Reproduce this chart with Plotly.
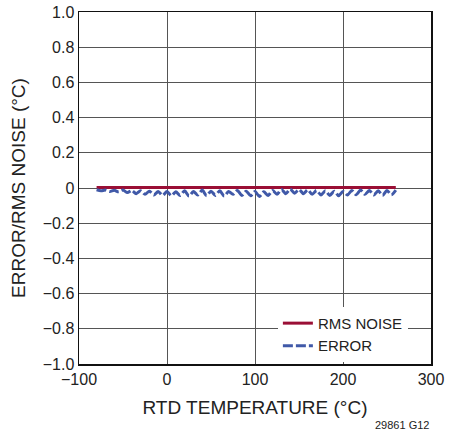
import plotly.graph_objects as go

# RTD temperature (°C) for error samples
temp_error = [-80, -75, -70, -65, -60, -55, -50, -45, -40, -35, -30, -25, -20, -15, -10, -5,
              0, 5, 10, 15, 20, 25, 30, 35, 40, 45, 50, 55, 60, 65, 70, 75, 80, 85, 90, 95,
              100, 105, 110, 115, 120, 125, 130, 135, 140, 145, 150, 155, 160, 165, 170, 175,
              180, 185, 190, 195, 200, 205, 210, 215, 220, 225, 230, 235, 240, 245, 250, 255, 260]
error = [-0.010, -0.016, -0.012, -0.020, -0.013, -0.022, -0.012, -0.026, -0.014, -0.032,
         -0.016, -0.036, -0.018, -0.040, -0.020, -0.042, -0.020, -0.044, -0.022, -0.042,
         -0.016, -0.046, -0.020, -0.040, -0.012, -0.044, -0.018, -0.042, -0.016, -0.046,
         -0.020, -0.036, -0.014, -0.042, -0.018, -0.044, -0.020, -0.048, -0.022, -0.042,
         -0.014, -0.036, -0.008, -0.032, -0.006, -0.030, -0.008, -0.032, -0.010, -0.036,
         -0.014, -0.040, -0.016, -0.042, -0.018, -0.044, -0.020, -0.040, -0.014, -0.038,
         -0.012, -0.036, -0.014, -0.040, -0.016, -0.042, -0.014, -0.038, -0.012]

temp_noise = [-80, -40, 0, 40, 80, 120, 160, 200, 240, 260]
rms_noise = [0.003, 0.003, 0.003, 0.003, 0.003, 0.003, 0.003, 0.003, 0.003, 0.003]

x_ticks = [-100, 0, 100, 200, 300]
x_ticklabels = ["\u2212100", "0", "100", "200", "300"]
y_ticks = [1.0, 0.8, 0.6, 0.4, 0.2, 0, -0.2, -0.4, -0.6, -0.8, -1.0]
y_ticklabels = ["1.0", "0.8", "0.6", "0.4", "0.2", "0", "\u22120.2", "\u22120.4",
                "\u22120.6", "\u22120.8", "\u22121.0"]

FONT = "Liberation Sans, Arial, sans-serif"

fig = go.Figure()
fig.add_trace(go.Scatter(x=temp_noise, y=rms_noise, mode="lines", name="RMS NOISE",
                         line=dict(color="#9a0f35", width=3)))
fig.add_trace(go.Scatter(x=temp_error, y=error, mode="lines", name="ERROR",
                         line=dict(color="#4059a8", width=3, dash="10px,3px",
                                   shape="spline", smoothing=0.8)))

fig.update_layout(
    width=461, height=434,
    margin=dict(l=79, r=30, t=12, b=70),
    paper_bgcolor="white", plot_bgcolor="white",
    font=dict(family=FONT, size=16, color="#222"),
    showlegend=True,
    legend=dict(x=0.565, y=0.006, xanchor="left", yanchor="bottom",
                bgcolor="white", borderwidth=0, font=dict(size=15),
                tracegroupgap=0, itemwidth=30),
    xaxis=dict(range=[-100, 300], tickvals=x_ticks, ticktext=x_ticklabels,
               showgrid=True, gridcolor="#555", gridwidth=1, zeroline=False,
               showline=True, linecolor="#111", linewidth=1.5, mirror=True,
               automargin=False, ticks="",
               title=dict(text="RTD TEMPERATURE (\u00b0C)", standoff=14)),
    yaxis=dict(range=[-1.0, 1.0], tickvals=y_ticks, ticktext=y_ticklabels,
               showgrid=True, gridcolor="#555", gridwidth=1, zeroline=False,
               showline=True, linecolor="#111", linewidth=1.5, mirror=True,
               automargin=False, ticks="",
               title=dict(text="ERROR/RMS NOISE (\u00b0C)", standoff=12)),
    annotations=[dict(text="29861 G12", xref="paper", yref="paper", x=1.0, y=-0.172,
                      xanchor="right", yanchor="middle", showarrow=False,
                      font=dict(size=11, family=FONT, color="#222"))],
)

# remove the default page margin so the figure sits at the window's top-left corner
fig.write_html("out.html",
               config={"displayModeBar": False, "staticPlot": True},
               post_script="document.body.style.margin='0';document.body.style.overflow='hidden';")
